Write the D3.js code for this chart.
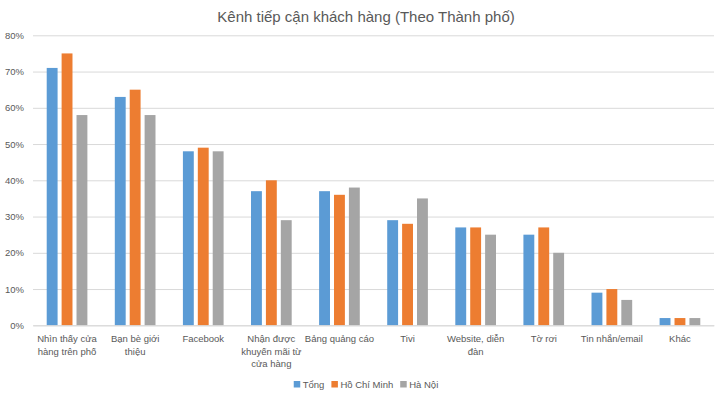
<!DOCTYPE html>
<html><head><meta charset="utf-8">
<script src="https://cdn.jsdelivr.net/npm/d3@7"></script>
<style>body{margin:0;background:#fff;} text{font-family:"Liberation Sans",Arial,sans-serif;}</style>
</head><body><svg id="c" width="724" height="400"></svg>
<script>
const categories = ["Nhìn thấy cửa\nhàng trên phố","Bạn bè giới\nthiệu","Facebook","Nhận được\nkhuyến mãi từ\ncửa hàng","Bảng quảng cáo","Tivi","Website, diễn\nđàn","Tờ rơi","Tin nhắn/email","Khác"];
const seriesNames = ["Tổng","Hồ Chí Minh","Hà Nội"];
const tong = [71,63,48,37,37,29,27,25,9,2];
const hcm = [75,65,49,40,36,28,27,27,10,2];
const hanoi = [58,58,48,29,38,35,25,20,7,2];
const yTicks = [0,10,20,30,40,50,60,70,80];
const colors = ["#5B9BD5","#ED7D31","#A5A5A5"];
const title = "Kênh tiếp cận khách hàng (Theo Thành phố)";

const seriesVals = [tong,hcm,hanoi];
const svg = d3.select("#c");
const m = {l:33,r:10,t:36,b:75};
const W=724,H=400;
const x = d3.scaleBand().domain(d3.range(categories.length)).range([m.l,W-m.r]).paddingInner(0).paddingOuter(0);
const y = d3.scaleLinear().domain([0,80]).range([325.3,35.3]);
const xs = d3.scaleBand().domain(d3.range(3)).range([0,x.bandwidth()]).paddingOuter(0.92).paddingInner(0.27);

svg.append("text").attr("x",366).attr("y",22).attr("text-anchor","middle").attr("font-size",15).attr("fill","#595959").text(title);

const gy = svg.append("g").attr("transform",`translate(${m.l},0)`)
  .call(d3.axisLeft(y).tickValues(yTicks).tickFormat(d=>d+"%").tickSize(-(W-m.l-m.r)).tickPadding(9));
gy.select(".domain").remove();
gy.selectAll(".tick line").attr("stroke","#D9D9D9").attr("stroke-width",1);
gy.selectAll(".tick text").attr("fill","#595959").attr("font-size",9.5).attr("font-family","Liberation Sans, Arial");

const g = svg.append("g");
categories.forEach((c,i)=>{
  seriesVals.forEach((vals,s)=>{
    g.append("rect").attr("x",x(i)+xs(s)).attr("width",xs.bandwidth())
     .attr("y",y(vals[i])).attr("height",y(0)-y(vals[i])).attr("fill",colors[s]);
  });
});

const gx = svg.append("g").attr("transform",`translate(0,${y(0)})`)
  .call(d3.axisBottom(x).tickSize(0).tickFormat(""));
gx.select(".domain").attr("stroke","#D9D9D9");
categories.forEach((c,i)=>{
  const t = svg.append("text").attr("text-anchor","middle").attr("font-size",9.5).attr("fill","#595959");
  c.split("\n").forEach((ln,j)=>{
    t.append("tspan").attr("x",x(i)+x.bandwidth()/2).attr("y",342+j*12.5).text(ln);
  });
});

// legend, centred
const lg = svg.append("g");
let cx = 0;
seriesNames.forEach((n,s)=>{
  lg.append("rect").attr("x",cx).attr("y",381).attr("width",6.5).attr("height",6.5).attr("fill",colors[s]);
  const t = lg.append("text").attr("x",cx+9).attr("y",388).attr("font-size",9.5).attr("fill","#595959").text(n);
  cx += 9 + t.node().getComputedTextLength() + 7;
});
const total = cx - 7;
lg.attr("transform",`translate(${366-total/2},0)`);
</script></body></html>
